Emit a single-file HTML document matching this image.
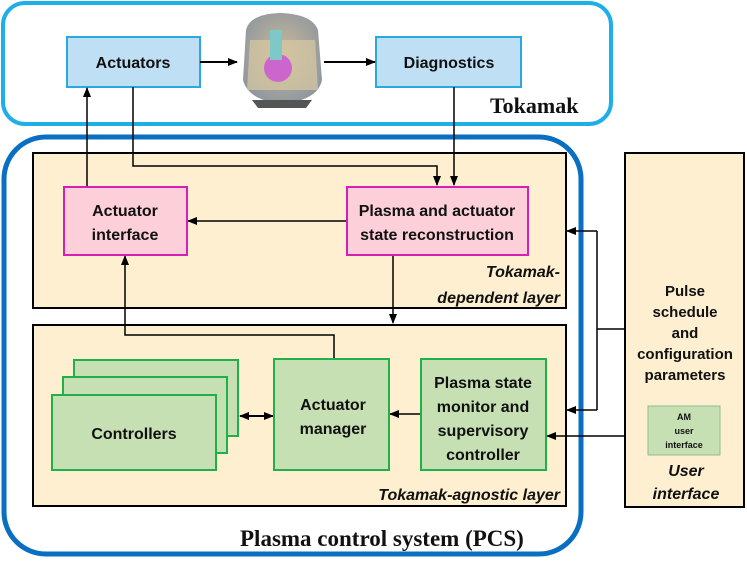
<!DOCTYPE html>
<html><head><meta charset="utf-8"><style>
html,body{margin:0;padding:0;background:#fff;width:747px;height:564px;overflow:hidden}
svg{display:block}
text{font-family:"Liberation Sans",sans-serif;font-weight:bold;fill:#111}
.s{font-family:"Liberation Serif",serif;font-weight:900}
</style></head><body>
<svg width="747" height="564" viewBox="0 0 747 564" xmlns="http://www.w3.org/2000/svg">
<defs>
<marker id="a" markerWidth="10" markerHeight="10" refX="9" refY="5" orient="auto" markerUnits="userSpaceOnUse"><path d="M0,1 L10,5 L0,9 Z" fill="#000"/></marker>
<marker id="b" markerWidth="10" markerHeight="10" refX="1" refY="5" orient="auto" markerUnits="userSpaceOnUse"><path d="M10,1 L0,5 L10,9 Z" fill="#000"/></marker>
<radialGradient id="g" cx="0.5" cy="0.45" r="0.6"><stop offset="0" stop-color="#c9b99a"/><stop offset="1" stop-color="#8d969e"/></radialGradient>
</defs>
<rect x="3" y="3" width="608" height="121" rx="22" fill="#fff" stroke="#1eaee8" stroke-width="4"/>
<text class="s" x="490" y="113" font-size="22">Tokamak</text>
<rect x="67" y="37" width="133" height="50" fill="#bfe0f4" stroke="#29a9e0" stroke-width="2"/>
<text x="133" y="68" font-size="16" text-anchor="middle">Actuators</text>
<rect x="376" y="37" width="145" height="50" fill="#bfe0f4" stroke="#29a9e0" stroke-width="2"/>
<text x="449" y="68" font-size="16" text-anchor="middle">Diagnostics</text>
<g>
<path d="M246,30 Q250,14 280,13 Q312,14 318,30 L322,80 Q318,100 282,104 Q248,100 243,80 Z" fill="url(#g)"/>
<path d="M250,40 L315,40 L318,90 L247,90 Z" fill="#d8c9a2" opacity="0.7"/>
<ellipse cx="278" cy="68" rx="14" ry="14" fill="#cc66cc"/>
<rect x="270" y="30" width="12" height="30" fill="#7ec8c8"/>
<path d="M252,100 L312,100 L306,108 L258,108 Z" fill="#555"/>
</g>
<line x1="200" y1="62" x2="237" y2="62" stroke="#000" stroke-width="2" marker-end="url(#a)"/>
<line x1="324" y1="62" x2="375" y2="62" stroke="#000" stroke-width="2" marker-end="url(#a)"/>
<rect x="4" y="137" width="577" height="417" rx="42" fill="#fff" stroke="#0a6fc2" stroke-width="5"/>
<text class="s" x="240" y="546" font-size="23">Plasma control system (PCS)</text>
<rect x="33" y="153" width="533" height="155" fill="#fdefd0" stroke="#000" stroke-width="2"/>
<rect x="33" y="325" width="533" height="181" fill="#fdefd0" stroke="#000" stroke-width="2"/>
<text x="560" y="277" font-size="16" font-style="italic" text-anchor="end">Tokamak-</text>
<text x="560" y="303" font-size="16" font-style="italic" text-anchor="end">dependent layer</text>
<text x="560" y="500" font-size="16" font-style="italic" text-anchor="end">Tokamak-agnostic layer</text>
<polyline points="133,87 133,166 437,166 437,185" fill="none" stroke="#000" stroke-width="1.5" marker-end="url(#a)"/>
<line x1="454" y1="87" x2="454" y2="185" stroke="#000" stroke-width="1.5" marker-end="url(#a)"/>
<line x1="347" y1="221" x2="188" y2="221" stroke="#000" stroke-width="1.5" marker-end="url(#a)"/>
<line x1="87" y1="187" x2="87" y2="88" stroke="#000" stroke-width="1.5" marker-end="url(#a)"/>
<line x1="393" y1="256" x2="393" y2="323" stroke="#000" stroke-width="1.5" marker-end="url(#a)"/>
<polyline points="334,359 334,335 125,335 125,256" fill="none" stroke="#000" stroke-width="1.5" marker-end="url(#a)"/>
<line x1="240" y1="416" x2="273" y2="416" stroke="#000" stroke-width="2" marker-start="url(#b)" marker-end="url(#a)"/>
<line x1="421" y1="414" x2="390" y2="414" stroke="#000" stroke-width="1.5" marker-end="url(#a)"/>
<line x1="624" y1="329" x2="597" y2="329" stroke="#000" stroke-width="1.5"/>
<polyline points="597,231 597,410" fill="none" stroke="#000" stroke-width="1.5"/>
<line x1="597" y1="231" x2="567" y2="231" stroke="#000" stroke-width="1.5" marker-end="url(#a)"/>
<line x1="597" y1="410" x2="567" y2="410" stroke="#000" stroke-width="1.5" marker-end="url(#a)"/>
<line x1="624" y1="436" x2="547" y2="436" stroke="#000" stroke-width="1.5" marker-end="url(#a)"/>
<rect x="64" y="187" width="123" height="68" fill="#fccfd9" stroke="#d61fb4" stroke-width="2"/>
<text x="125" y="216" font-size="16" text-anchor="middle">Actuator</text>
<text x="125" y="240" font-size="16" text-anchor="middle">interface</text>
<rect x="347" y="187" width="181" height="68" fill="#fccfd9" stroke="#d61fb4" stroke-width="2"/>
<text x="437" y="216" font-size="16" text-anchor="middle">Plasma and actuator</text>
<text x="437" y="240" font-size="16" text-anchor="middle">state reconstruction</text>
<rect x="74" y="360" width="164" height="76" fill="#c6e0b4" stroke="#1fb04a" stroke-width="2"/>
<rect x="63" y="377" width="164" height="76" fill="#c6e0b4" stroke="#1fb04a" stroke-width="2"/>
<rect x="52" y="395" width="164" height="75" fill="#c6e0b4" stroke="#1fb04a" stroke-width="2"/>
<text x="134" y="439" font-size="16" text-anchor="middle">Controllers</text>
<rect x="274" y="359" width="115" height="111" fill="#c6e0b4" stroke="#1fb04a" stroke-width="2"/>
<text x="333" y="410" font-size="16" text-anchor="middle">Actuator</text>
<text x="333" y="434" font-size="16" text-anchor="middle">manager</text>
<rect x="421" y="359" width="125" height="111" fill="#c6e0b4" stroke="#1fb04a" stroke-width="2"/>
<text x="483" y="388" font-size="16" text-anchor="middle">Plasma state</text>
<text x="483" y="412" font-size="16" text-anchor="middle">monitor and</text>
<text x="483" y="436" font-size="16" text-anchor="middle">supervisory</text>
<text x="483" y="460" font-size="16" text-anchor="middle">controller</text>
<rect x="625" y="153" width="119" height="354" fill="#fdefd0" stroke="#000" stroke-width="2"/>
<text x="685" y="296" font-size="15" text-anchor="middle">Pulse</text>
<text x="685" y="317" font-size="15" text-anchor="middle">schedule</text>
<text x="685" y="338" font-size="15" text-anchor="middle">and</text>
<text x="685" y="359" font-size="15" text-anchor="middle">configuration</text>
<text x="685" y="380" font-size="15" text-anchor="middle">parameters</text>
<rect x="648" y="406" width="72" height="49" fill="#c6e0b4" stroke="#8fbf8f" stroke-width="1"/>
<text x="684" y="420" font-size="9" font-weight="normal" text-anchor="middle">AM</text>
<text x="684" y="434" font-size="9" font-weight="normal" text-anchor="middle">user</text>
<text x="684" y="448" font-size="9" font-weight="normal" text-anchor="middle">interface</text>
<text x="686" y="476" font-size="16" font-style="italic" text-anchor="middle">User</text>
<text x="686" y="499" font-size="16" font-style="italic" text-anchor="middle">interface</text>
</svg>
</body></html>
